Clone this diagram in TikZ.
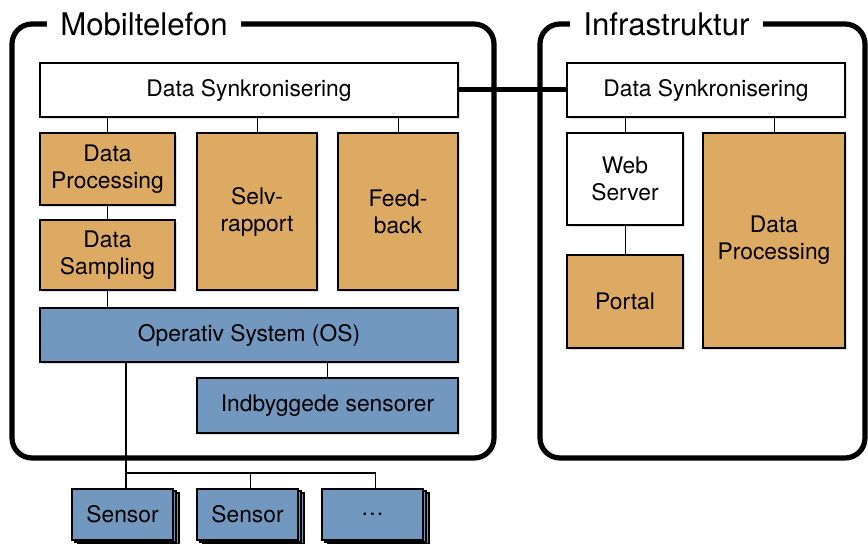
\documentclass[tikz,border=0pt]{standalone}
\usepackage{fontspec}
\setmainfont{TeX Gyre Heros}
\usetikzlibrary{shadows}
\definecolor{boxorange}{RGB}{221,170,100}
\definecolor{boxblue}{RGB}{114,152,192}

\begin{document}
\begin{tikzpicture}[x=0.5pt,y=-0.5pt,
    every node/.style={font=\fontsize{11.4}{13.5}\selectfont},
    block/.style={draw, line width=0.7pt, align=center, inner sep=0pt,
        drop shadow={opacity=0.25, shadow xshift=1pt, shadow yshift=-1pt}},
    wblock/.style={block, fill=white},
    oblock/.style={block, fill=boxorange},
    bblock/.style={block, fill=boxblue},
    sensorbox/.style={draw, line width=0.7pt, fill=boxblue, inner sep=0pt,
        minimum width=50.5pt, minimum height=25.5pt,
        double copy shadow={shadow xshift=1.5pt, shadow yshift=-1pt}},
    frame/.style={line width=2.6pt, rounded corners=10pt, fill=white,
        drop shadow={opacity=0.25, shadow xshift=1pt, shadow yshift=-1pt}},
    title/.style={fill=white, inner xsep=6.5pt, font=\fontsize{15.6}{18}\selectfont},
    link/.style={line width=0.5pt},
    bus/.style={line width=0.9pt},
    sync/.style={line width=2.5pt}]
    \useasboundingbox (0,0) rectangle (868,544);

    \draw[frame] (12,24) rectangle (494,458);
    \draw[frame] (540,24) rectangle (865,458);
    \node[title] (mobil) at (144,24) {Mobiltelefon};
    \node[title] (infra) at (666.5,24) {Infrastruktur};

    \node[wblock, minimum width=209pt, minimum height=27pt] (syncm) at (249,90) {Data Synkronisering};
    \node[oblock, minimum width=67.5pt, minimum height=36pt] (procm) at (107.5,169) {Data\\Processing};
    \node[oblock, minimum width=67.5pt, minimum height=35pt] (samp) at (107.5,255) {Data\\Sampling};
    \node[oblock, minimum width=60pt, minimum height=78.5pt] (selv) at (257,211.5) {Selv-\\rapport};
    \node[oblock, minimum width=60pt, minimum height=78.5pt] (feed) at (398,211.5) {Feed-\\back};
    \node[bblock, minimum width=209pt, minimum height=27pt] (os) at (249,335) {Operativ System (OS)};
    \node[bblock, minimum width=130.5pt, minimum height=27.5pt] (indb) at (327.5,405.5) {Indbyggede sensorer};

    \node[sensorbox] (s1) at (122.5,514.5) {Sensor};
    \node[sensorbox] (s2) at (247.5,514.5) {Sensor};
    \node[sensorbox] (s3) at (372.5,514.5) {\dots};

    \node[wblock, minimum width=139pt, minimum height=27pt] (syncr) at (706,90) {Data Synkronisering};
    \node[wblock, minimum width=58pt, minimum height=46pt] (web) at (625,179) {Web\\Server};
    \node[oblock, minimum width=58pt, minimum height=46.5pt] (portal) at (625,301.5) {Portal};
    \node[oblock, minimum width=71pt, minimum height=107.5pt] (procr) at (774,240.5) {Data\\Processing};

    \draw[link] (procm.north) -- (procm.north |- syncm.south);
    \draw[link] (selv.north) -- (selv.north |- syncm.south);
    \draw[link] (feed.north) -- (feed.north |- syncm.south);
    \draw[link] (procm.south) -- (samp.north);
    \draw[link] (samp.south) -- (samp.south |- os.north);
    \draw[link] (indb.north) -- (indb.north |- os.south);

    \coordinate (busc) at (126,473);
    \draw[bus] (os.south -| busc) -- (s1.north -| busc);
    \draw[bus] (busc) -| ([xshift=1.5pt]s2.north);
    \draw[bus] (busc) -| ([xshift=1.5pt]s3.north);

    \draw[link] (web.north) -- (web.north |- syncr.south);
    \draw[link] (procr.north) -- (procr.north |- syncr.south);
    \draw[link] (web.south) -- (portal.north);

    \draw[sync] (syncm.east) -- (syncr.west);
\end{tikzpicture}
\end{document}
